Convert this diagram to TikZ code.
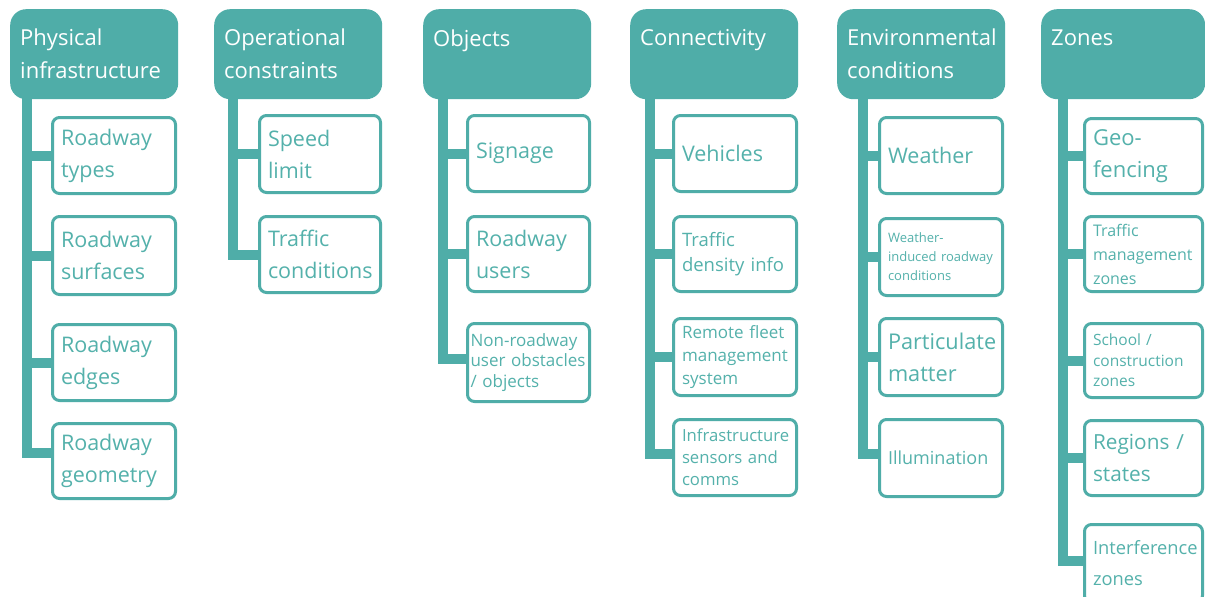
\documentclass[tikz,border=0pt]{standalone}
\usepackage{fontspec}
\setmainfont{Open Sans}
\definecolor{tealc}{RGB}{79,173,168}
\definecolor{tealtext}{RGB}{84,177,171}
\newcommand\fsz[2]{\fontsize{#1pt}{#2pt}\selectfont}
\tikzset{
  hdr/.style={anchor=north west, fill=tealc, rounded corners=16pt, text=white,
    align=left, text width=148pt, inner xsep=10pt, inner ysep=0pt,
    minimum height=90pt, font=\fsz{22}{33}},
  leaf/.style={anchor=north west, draw=tealc, line width=3pt, rounded corners=7pt,
    fill=white, text=tealtext, align=left, inner xsep=8.5pt, inner ysep=0pt,
    font=\fsz{21.5}{32}},
  trunk/.style={draw=tealc, line width=10pt},
}
\begin{document}
\begin{tikzpicture}[x=1pt, y=-1pt]
\useasboundingbox (0,0) rectangle (1205,597);
\fill[white] (0,0) rectangle (1205,597);
\clip (0,0) rectangle (1205,597);

% category headers
\node[hdr] (h1) at (10,9)   {Physical\\infrastructure};
\node[hdr] (h2) at (214,9)  {Operational\\constraints};
\node[hdr] (h3) at (423,9)  {Objects\\\mbox{}};
\node[hdr] (h4) at (630,9)  {Connectivity\\\mbox{}};
\node[hdr] (h5) at (837,9)  {Environmental\\conditions};
\node[hdr, text width=144pt] (h6) at (1041,9) {Zones\\\mbox{}};

% trunk origins under each header
\coordinate (t1) at (27,92);
\coordinate (t2) at (232.5,92);
\coordinate (t3) at (443,92);
\coordinate (t4) at (650,92);
\coordinate (t5) at (862.5,92);
\coordinate (t6) at (1063,92);

% Physical infrastructure
\begin{scope}[leaf/.append style={text width=106pt}]
\node[leaf, minimum height=76pt] (c11) at (51,116) {Roadway\\types};
\node[leaf, minimum height=78pt] (c12) at (51,215) {Roadway\\surfaces};
\node[leaf, minimum height=76pt] (c13) at (51,323) {Roadway\\edges};
\node[leaf, minimum height=75pt] (c14) at (51,422) {Roadway\\geometry};
\end{scope}

% Operational constraints
\begin{scope}[leaf/.append style={text width=104pt}]
\node[leaf, minimum height=77pt] (c21) at (258,114) {Speed\\limit};
\node[leaf, minimum height=76pt] (c22) at (258,215) {Traffic\\conditions};
\end{scope}

% Objects
\begin{scope}[leaf/.append style={text width=105pt}]
\node[leaf, minimum height=76pt] (c31) at (466,114) {Signage};
\node[leaf, minimum height=75pt] (c32) at (466,215) {Roadway\\users};
\node[leaf, minimum height=78pt, inner xsep=3pt, text width=116pt,
      font=\fsz{17}{20.5}] (c33) at (466,322) {Non-roadway\\user obstacles\\/ objects};
\end{scope}

% Connectivity
\begin{scope}[leaf/.append style={text width=106pt}]
\node[leaf, minimum height=76pt] (c41) at (672,114) {Vehicles};
\node[leaf, minimum height=75pt, font=\fsz{18.5}{25}] (c42) at (672,215) {Traffic\\density info};
\node[leaf, minimum height=77pt, font=\fsz{17}{23}] (c43) at (672,317) {Remote fleet\\management\\system};
\node[leaf, minimum height=76pt, font=\fsz{16.7}{22}] (c44) at (672,418) {Infrastructure\\sensors and\\comms};
\end{scope}

% Environmental conditions
\begin{scope}[leaf/.append style={text width=106pt}]
\node[leaf, minimum height=76pt] (c51) at (878,116) {Weather};
\node[leaf, minimum height=77pt, font=\fsz{13}{19}] (c52) at (878,217) {Weather-\\\mbox{induced roadway}\\conditions};
\node[leaf, minimum height=77pt, font=\fsz{21.7}{32}] (c53) at (878,317) {Particulate\\matter};
\node[leaf, minimum height=77pt, font=\fsz{18}{26}] (c54) at (878,418) {Illumination};
\end{scope}

% Zones
\begin{scope}[leaf/.append style={text width=101pt}]
\node[leaf, minimum height=75pt, font=\fsz{22}{32}] (c61) at (1083,117) {Geo-\\fencing};
\node[leaf, minimum height=75pt, font=\fsz{16}{24}] (c62) at (1083,215) {Traffic\\management\\zones};
\node[leaf, minimum height=74pt, font=\fsz{15.5}{20.5}] (c63) at (1083,322) {School /\\construction\\zones};
\node[leaf, minimum height=75pt, font=\fsz{20.8}{32}] (c64) at (1083,419) {Regions /\\states};
\node[leaf, minimum height=78pt, font=\fsz{18.3}{31}] (c65) at (1083,523) {Interference\\zones};
\end{scope}

% trunks and branches
\draw[trunk] (t1) |- ([yshift=8pt]c14.west);
\foreach \c in {c11,c12,c13} \draw[trunk] (\c.west) -- (\c.west -| t1);

\draw[trunk] (t2) |- (c22.west);
\draw[trunk] (c21.west) -- (c21.west -| t2);

\draw[trunk] (t3) |- ([yshift=4pt]c33.west);
\foreach \c in {c31,c32} \draw[trunk] (\c.west) -- (\c.west -| t3);

\draw[trunk] (t4) |- ([yshift=4pt]c44.west);
\foreach \c in {c41,c42,c43} \draw[trunk] (\c.west) -- (\c.west -| t4);

\draw[trunk] (t5) |- ([yshift=4pt]c54.west);
\foreach \c in {c51,c52,c53} \draw[trunk] (\c.west) -- (\c.west -| t5);

\draw[trunk] (t6) |- ([yshift=3pt]c65.west);
\foreach \c in {c61,c62,c63,c64} \draw[trunk] (\c.west) -- (\c.west -| t6);
\end{tikzpicture}
\end{document}
